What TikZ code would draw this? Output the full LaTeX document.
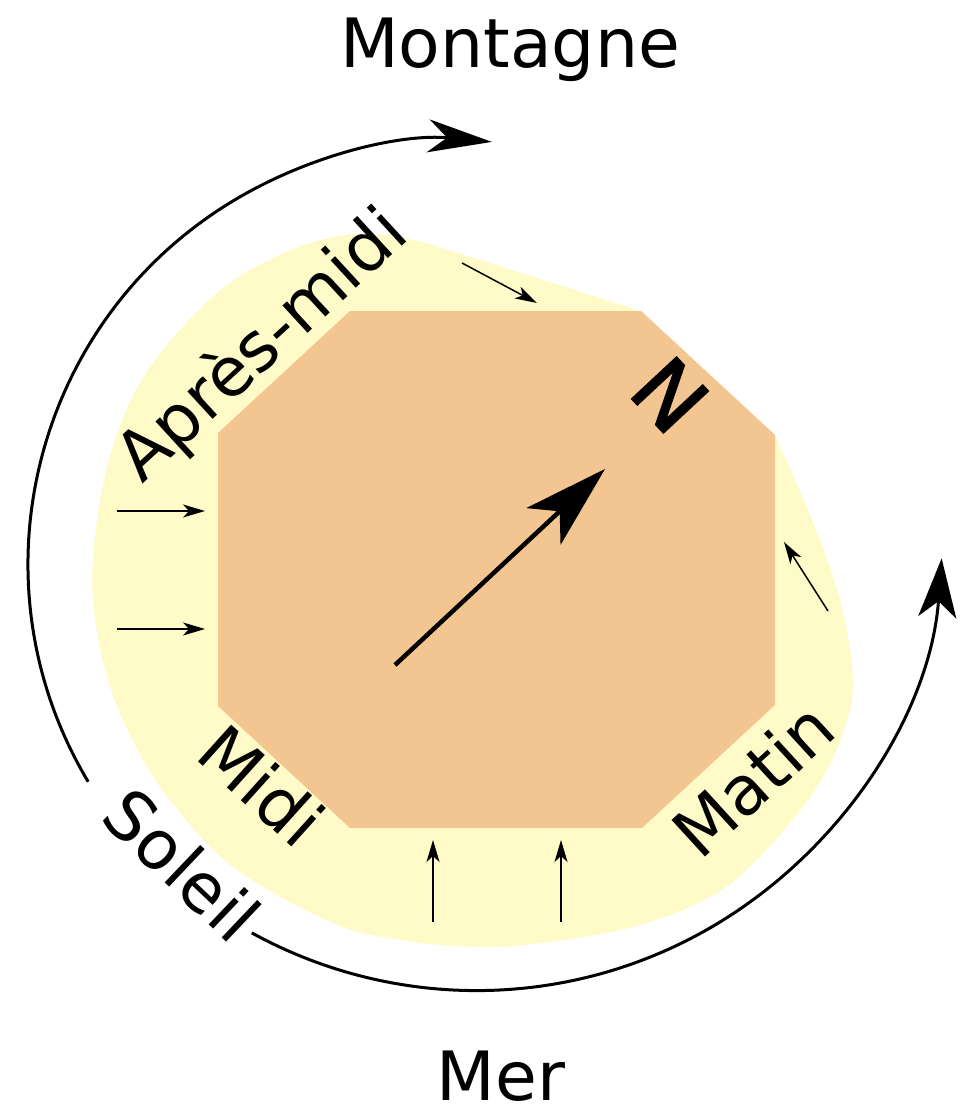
\documentclass[tikz,border=0pt]{standalone}
\usepackage{fontspec}
\setmainfont{DejaVu Sans}
\newfontfamily\nfont{DejaVu Sans}[FakeBold=2]
\usetikzlibrary{arrows.meta}
\definecolor{octo}{RGB}{243,197,145}
\definecolor{halo}{RGB}{255,251,201}
\begin{document}
\begin{tikzpicture}[x=1pt,y=-1pt,
  lbl/.style={font=\fontsize{68}{80}\selectfont, inner sep=0pt, anchor=base},
  sunarc/.style={line width=3pt},
  wind/.style={line width=1.5pt, -{Stealth[length=22pt,width=13pt,inset=6pt]}},
  north/.style={line width=4.5pt, -{Stealth[length=84pt,width=50pt,inset=22pt]}}]
\useasboundingbox (0,0) rectangle (960,1108);
% yellow halo
\fill[halo] (641,311) -- (775,435) -- plot[smooth, tension=0.6] coordinates {
 (775,435) (812,520) (840,600) (853,680) (843,733) (817,787) (769,847) (717,893)
 (640,925) (550,942) (480,947) (400,940) (333,923) (233,867) (170,800) (135,745)
 (108,680) (93,600) (97,520) (115,440) (150,367) (217,293) (280,255) (333,237)
 (380,234) (430,244)} -- cycle;
% house (octagon)
\fill[octo] (350,311) -- (641,311) -- (775,435) -- (775,705) -- (642,828)
  -- (350,828) -- (218,706) -- (218,433) -- cycle;
% sun arcs
\draw[sunarc, -{Stealth[length=64pt,width=33pt,inset=19pt]}]
  (452,564) ++(149.1:424) arc[start angle=149.1, end angle=275.4, radius=424];
\draw[sunarc, -{Stealth[length=59pt,width=38pt,inset=16pt]}]
  (476.5,524.2) ++(118.8:466.4) arc[start angle=118.8, end angle=4.2, radius=466.4];
% wind arrows
\coordinate (w1s) at (462,263); \coordinate (w1e) at (537,303);
\coordinate (w2s) at (117,511); \coordinate (w2e) at (205,511);
\coordinate (w3s) at (117,629); \coordinate (w3e) at (205,629);
\coordinate (w4s) at (433,922); \coordinate (w4e) at (433,840);
\coordinate (w5s) at (561,922); \coordinate (w5e) at (561,840);
\coordinate (w6s) at (828,611); \coordinate (w6e) at (784,542);
\draw[wind] (w1s) -- (w1e);
\draw[wind] (w2s) -- (w2e);
\draw[wind] (w3s) -- (w3e);
\draw[wind] (w4s) -- (w4e);
\draw[wind] (w5s) -- (w5e);
\draw[wind] (w6s) -- (w6e);
% north arrow
\coordinate (ns) at (395,665);
\coordinate (ne) at (605,469);
\draw[north] (ns) -- (ne);
\node[inner sep=0pt, rotate=-47, font=\fontsize{84}{90}\selectfont\nfont] (N) at (670,395) {N};
% labels
\node[lbl] (montagne) at (510,67) {Montagne};
\node[lbl] (mer) at (501,1100) {Mer};
\node[lbl, rotate=42.6] (apres) at (277,361) {Après-midi};
\node[lbl, rotate=-42] (midi) at (245,804) {Midi};
\node[lbl, rotate=-43.5] (soleil) at (165,883) {Soleil};
\node[lbl, rotate=42.4] (matin) at (770,798) {Matin};
\end{tikzpicture}
\end{document}
